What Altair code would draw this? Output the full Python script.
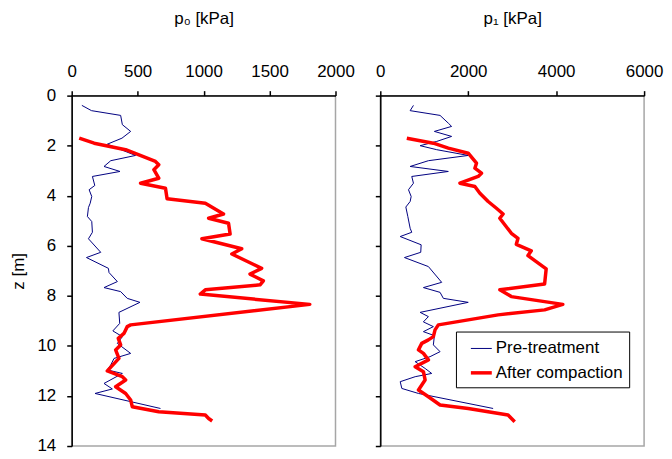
import altair as alt
import pandas as pd

FONT = "Liberation Sans"
SERIES = ["Pre-treatment", "After compaction"]

# ---- p0 panel ----
z_pre_p0 = [0.39, 0.6, 0.79, 1.16, 1.43, 1.7, 1.94, 2.39, 2.6, 2.83, 3.03, 3.23, 3.59, 3.76,
            4.03, 4.3, 4.47, 4.83, 5.03, 5.46, 5.72, 6.26, 6.47, 6.9, 7.07, 7.43, 7.67, 7.83,
            8.1, 8.26, 8.66, 9.1, 9.4, 9.63, 9.9, 10.3, 10.5, 10.76, 10.96, 11.1, 11.5, 11.72,
            11.9, 12.5]
p0_pre = [77, 150, 371, 384, 447, 381, 270, 484, 296, 245, 366, 157, 175, 132,
          152, 140, 127, 119, 152, 157, 127, 220, 112, 278, 283, 346, 245, 371,
          421, 517, 358, 364, 312, 384, 346, 447, 321, 296, 270, 384, 245, 308,
          177, 673]

z_cmp_p0 = [1.7, 1.9, 2.16, 2.63, 2.76, 2.96, 3.3, 3.5, 3.7, 4.12, 4.3, 4.73, 4.9, 5.1, 5.53,
            5.72, 6.12, 6.33, 6.9, 7.13, 7.4, 7.56, 7.76, 7.93, 8.34, 9.16, 9.23, 9.5, 9.7,
            9.96, 10.16, 10.5, 11.0, 11.23, 11.36, 11.63, 11.9, 12.16, 12.43, 12.63, 12.76,
            12.9, 13.0]
p0_cmp = [57, 170, 409, 635, 660, 623, 660, 522, 711, 723, 1013, 1151, 1038, 1189, 1201,
          987, 1289, 1214, 1440, 1352, 1453, 1428, 1013, 975, 1805, 447, 421, 396, 353,
          371, 333, 358, 270, 384, 409, 333, 409, 447, 459, 660, 1013,
          1038, 1065]

# ---- p1 panel ----
z_pre_p1 = [0.39, 0.6, 0.79, 1.1, 1.23, 1.43, 1.63, 1.83, 2.0, 2.16, 2.39, 2.6, 2.83, 3.03,
            3.23, 3.5, 3.76, 4.03, 4.23, 4.45, 4.83, 5.3, 5.46, 5.63, 5.96, 6.26, 6.47, 6.83,
            7.46, 7.67, 7.86, 8.1, 8.26, 8.66, 8.83, 9.04, 9.23, 9.43, 9.59, 9.96, 10.23,
            10.43, 10.63, 10.9, 11.1, 11.23, 11.43, 11.7, 11.9, 12.5]
p1_pre = [754, 679, 1359, 1547, 1622, 1230, 1622, 1283, 906, 1283, 2000, 1094, 679, 1547,
          716, 754, 641, 702, 679, 581, 626, 679, 716, 453, 929, 920, 550, 1094,
          1396, 981, 1359, 1434, 2000, 906, 1094, 980, 1207, 981, 1230, 1207, 1359,
          1132, 793, 1019, 1169, 793, 453, 490, 868, 2566]

z_cmp_p1 = [1.7, 1.9, 2.1, 2.3, 2.7, 2.9, 3.1, 3.23, 3.5, 3.63, 3.9, 4.23, 4.5, 4.73, 4.9,
            5.16, 5.5, 5.7, 5.94, 6.2, 6.39, 6.92, 7.53, 7.76, 8.03, 8.34, 8.56, 8.76, 9.16,
            9.36, 9.63, 9.76, 9.9, 10.16, 10.3, 10.56, 10.83, 11.03, 11.36, 11.76, 12.03,
            12.36, 12.5, 12.76, 13.03]
p1_cmp = [603, 1207, 1547, 2000, 2188, 2151, 2302, 2226, 1812, 2151, 2265, 2453, 2641, 2793, 2718,
          2831, 2981, 3132, 3094, 3434, 3359, 3773, 3737, 2718, 2981, 4152, 3737, 2679, 1320,
          1245, 1207, 1094, 943, 868, 981, 1094, 793, 981, 1019, 868, 1094,
          1359, 2000, 2906, 3057]


def frame(zs_pre, v_pre, zs_cmp, v_cmp):
    rows = []
    for i, (z, v) in enumerate(zip(zs_pre, v_pre)):
        rows.append({"series": SERIES[0], "z": z, "v": v, "i": i})
    for i, (z, v) in enumerate(zip(zs_cmp, v_cmp)):
        rows.append({"series": SERIES[1], "z": z, "v": v, "i": i})
    return pd.DataFrame(rows)


df0 = frame(z_pre_p0, p0_pre, z_cmp_p0, p0_cmp)
df1 = frame(z_pre_p1, p1_pre, z_cmp_p1, p1_cmp)

color_scale = alt.Scale(domain=SERIES, range=["#000080", "#ff0000"])
width_scale = alt.Scale(domain=SERIES, range=[1, 3.5])

legend_cfg = dict(
    title=None, orient="none", legendX=76, legendY=237,
    symbolType="stroke", symbolSize=441, labelFontSize=17, labelFont=FONT,
    labelColor="black", strokeColor="black", fillColor="white",
    padding=6, rowPadding=4, labelOffset=2, symbolOffset=7, labelLimit=300,
    cornerRadius=0,
)


def panel(df, xtitle, xmax, xvals, show_y, show_legend):
    xaxis = alt.Axis(orient="top", title=xtitle, values=xvals, grid=False,
                     labelFlush=False, labelPadding=10, titlePadding=35, format="d")
    if show_y:
        yaxis = alt.Axis(values=list(range(0, 15, 2)), grid=False, title="z [m]",
                         labelPadding=11, titlePadding=10)
    else:
        yaxis = alt.Axis(values=list(range(0, 15, 2)), grid=False, title=None,
                         labels=False)
    if show_legend:
        cleg = alt.Legend(**legend_cfg)
        wleg = alt.Legend(**legend_cfg)
    else:
        cleg = None
        wleg = None
    return alt.Chart(df).mark_line(strokeJoin="round").encode(
        x=alt.X("v:Q", scale=alt.Scale(domain=[0, xmax], nice=False), axis=xaxis),
        y=alt.Y("z:Q", scale=alt.Scale(domain=[0, 14], reverse=True, nice=False), axis=yaxis),
        color=alt.Color("series:N", scale=color_scale, legend=cleg, sort=SERIES),
        strokeWidth=alt.StrokeWidth("series:N", scale=width_scale, legend=wleg, sort=SERIES),
        order=alt.Order("i:Q"),
        detail="series:N",
    ).properties(width=265, height=352)


left = panel(df0, "p₀ [kPa]", 2000, [0, 500, 1000, 1500, 2000], True, False)
right = panel(df1, "p₁ [kPa]", 6000, [0, 2000, 4000, 6000], False, True)

chart = alt.hconcat(left, right, spacing=45, bounds="flush").resolve_legend(
    color="independent", strokeWidth="independent"
).properties(
    padding={"left": 0, "top": 0, "right": 0, "bottom": 0},
    background="white",
).configure_view(
    stroke="#a6a6a6", strokeWidth=1.5
).configure_axis(
    domainColor="black", domainWidth=1.5, tickColor="black", tickSize=5, tickWidth=1.5,
    labelFont=FONT, titleFont=FONT, labelFontSize=17, titleFontSize=17,
    labelColor="black", titleColor="black", titleFontWeight="normal",
)

chart.save("out.html", embed_options={"renderer": "svg", "actions": False})
